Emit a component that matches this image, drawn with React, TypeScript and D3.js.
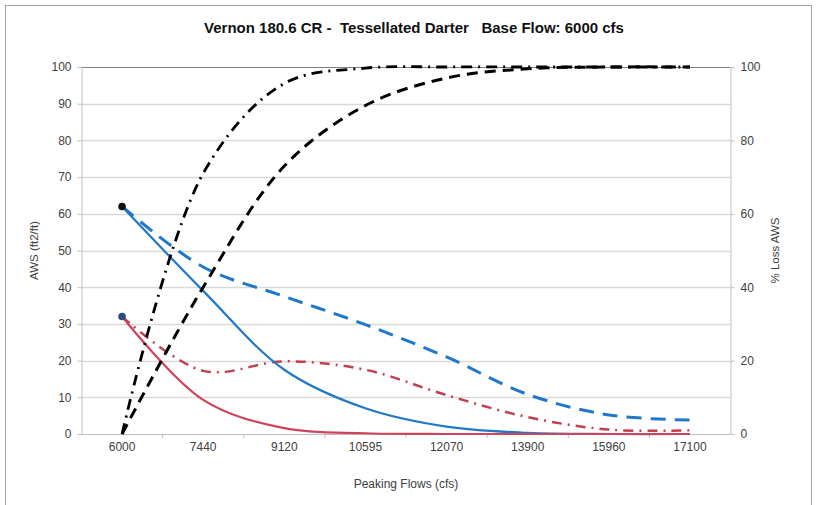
import { useRef, useEffect } from 'react';
import * as d3 from 'd3';

const FLOWS = ['6000', '7440', '9120', '10595', '12070', '13900', '15960', '17100'];
const LEFT_TICKS = [0, 10, 20, 30, 40, 50, 60, 70, 80, 90, 100];
const RIGHT_TICKS = [0, 20, 40, 60, 80, 100];

// AWS (left axis)
const awsBlueSolid = [62, 39, 17.5, 7, 2, 0.3, 0, 0];
const awsBlueDashed = [62, 45.5, 37.5, 29.8, 21, 10.8, 5.2, 3.8];
const awsRedSolid = [32, 9.3, 1.6, 0.2, 0, 0, 0, 0];
const awsRedDashDot = [32, 17.2, 19.8, 17.5, 10.6, 4.6, 1.2, 1.0];
// % Loss AWS (right axis)
const lossDashDot = [0, 71, 95.5, 99.7, 100, 100, 100, 100];
const lossDashed = [0, 40, 73, 89.5, 97, 99.5, 100, 100];

const FONT = '"Liberation Sans", Arial, sans-serif';

export default function App() {
  const svgRef = useRef<SVGSVGElement>(null);

  useEffect(() => {
    if (!svgRef.current) return;
    const width = 818;
    const height = 505;
    const margin = { top: 67, right: 87.5, bottom: 71, left: 81.5 };

    const svg = d3.select(svgRef.current);
    svg.selectAll('*').remove();

    svg.append('rect').attr('width', width).attr('height', height).attr('fill', 'white');
    svg.append('rect')
      .attr('x', 5.5).attr('y', 5.5).attr('width', 806).attr('height', 520)
      .attr('fill', 'none').attr('stroke', '#a6a6a6');

    const x = d3.scaleBand().domain(FLOWS).range([margin.left, width - margin.right]);
    const cx = (d: string) => (x(d) ?? 0) + x.bandwidth() / 2;
    const yL = d3.scaleLinear().domain([0, 100]).range([height - margin.bottom, margin.top]);
    const yR = d3.scaleLinear().domain([0, 100]).range([height - margin.bottom, margin.top]);
    const x0 = margin.left;
    const x1 = width - margin.right;
    const yBottom = height - margin.bottom;

    // gridlines
    svg.append('g')
      .selectAll('line')
      .data(LEFT_TICKS.filter(t => t > 0))
      .join('line')
      .attr('x1', x0).attr('x2', x1)
      .attr('y1', d => Math.round(yL(d)) + 0.5).attr('y2', d => Math.round(yL(d)) + 0.5)
      .attr('stroke', d => (d === 100 ? '#7f7f7f' : '#d9d9d9'))
      .attr('stroke-width', d => (d === 100 ? 1.2 : 1.5));

    // Left axis
    const gl = svg.append('g')
      .attr('transform', `translate(${x0},0)`)
      .call(d3.axisLeft(yL).tickValues(LEFT_TICKS).tickSize(4).tickPadding(6));
    gl.select('.domain').attr('stroke', '#bfbfbf');
    gl.selectAll('.tick line').attr('stroke', '#bfbfbf');
    gl.selectAll('.tick text').attr('fill', '#404040').attr('font-size', '12px').attr('font-family', FONT);

    // Right axis
    const gr = svg.append('g')
      .attr('transform', `translate(${x1},0)`)
      .call(d3.axisRight(yR).tickValues(RIGHT_TICKS).tickSize(4).tickPadding(6));
    gr.select('.domain').attr('stroke', '#bfbfbf');
    gr.selectAll('.tick line').attr('stroke', '#bfbfbf');
    gr.selectAll('.tick text').attr('fill', '#404040').attr('font-size', '12px').attr('font-family', FONT);

    // Bottom axis (category)
    const gb = svg.append('g')
      .attr('transform', `translate(0,${yBottom})`)
      .call(d3.axisBottom(x).tickSize(0).tickPadding(8));
    gb.select('.domain').attr('stroke', '#bfbfbf');
    gb.selectAll('.tick text').attr('fill', '#404040').attr('font-size', '12px').attr('font-family', FONT);
    const boundaries = FLOWS.slice(1).map(f => x(f) ?? 0);
    gb.selectAll('line.sep')
      .data(boundaries)
      .join('line')
      .attr('class', 'sep')
      .attr('x1', d => d).attr('x2', d => d)
      .attr('y1', 0).attr('y2', 4)
      .attr('stroke', '#bfbfbf');

    // Series (Excel-style smoothed lines)
    const lineL = d3.line<number>()
      .x((_, i) => cx(FLOWS[i]))
      .y(d => yL(d))
      .curve(d3.curveCatmullRom.alpha(0.5));
    const lineR = d3.line<number>()
      .x((_, i) => cx(FLOWS[i]))
      .y(d => yR(d))
      .curve(d3.curveCatmullRom.alpha(0.5));

    const series = [
      { data: awsBlueDashed, gen: lineL, color: '#1f78c8', dash: '15,9', w: 3 },
      { data: awsRedDashDot, gen: lineL, color: '#c0404f', dash: '10,6,2,6', w: 2.5 },
      { data: awsBlueSolid, gen: lineL, color: '#1f78c8', dash: null, w: 2.2 },
      { data: awsRedSolid, gen: lineL, color: '#d0435c', dash: null, w: 2.2 },
      { data: lossDashed, gen: lineR, color: '#000000', dash: '11,7', w: 3 },
      { data: lossDashDot, gen: lineR, color: '#000000', dash: '11,6,2,6', w: 2.8 },
    ];

    series.forEach(s => {
      svg.append('path')
        .attr('d', s.gen(s.data))
        .attr('fill', 'none')
        .attr('stroke', s.color)
        .attr('stroke-width', s.w)
        .attr('stroke-dasharray', s.dash ?? null);
    });

    // start markers
    svg.append('circle')
      .attr('cx', cx(FLOWS[0])).attr('cy', yL(awsBlueSolid[0]))
      .attr('r', 3.8).attr('fill', '#111');
    svg.append('circle')
      .attr('cx', cx(FLOWS[0])).attr('cy', yL(awsRedSolid[0]))
      .attr('r', 3.8).attr('fill', '#2a4a80');

    // Title
    svg.append('text')
      .attr('x', 414).attr('y', 33)
      .attr('text-anchor', 'middle')
      .attr('font-family', FONT).attr('font-size', '15px').attr('font-weight', 'bold')
      .attr('fill', '#111')
      .attr('xml:space', 'preserve')
      .text('Vernon 180.6 CR -  Tessellated Darter   Base Flow: 6000 cfs');

    // Axis titles
    svg.append('text')
      .attr('transform', `translate(38,${(yBottom + margin.top) / 2}) rotate(-90)`)
      .attr('text-anchor', 'middle')
      .attr('font-family', FONT).attr('font-size', '11.5px').attr('fill', '#404040')
      .text('AWS (ft2/ft)');
    svg.append('text')
      .attr('transform', `translate(779,${(yBottom + margin.top) / 2}) rotate(-90)`)
      .attr('text-anchor', 'middle')
      .attr('font-family', FONT).attr('font-size', '11.5px').attr('fill', '#404040')
      .text('% Loss AWS');
    svg.append('text')
      .attr('x', (x0 + x1) / 2).attr('y', 488)
      .attr('text-anchor', 'middle')
      .attr('font-family', FONT).attr('font-size', '12px').attr('fill', '#404040')
      .text('Peaking Flows (cfs)');
  }, []);

  return (
    <svg
      ref={svgRef}
      width={818}
      height={505}
      style={{ position: 'absolute', left: 0, top: 0, display: 'block' }}
    />
  );
}
